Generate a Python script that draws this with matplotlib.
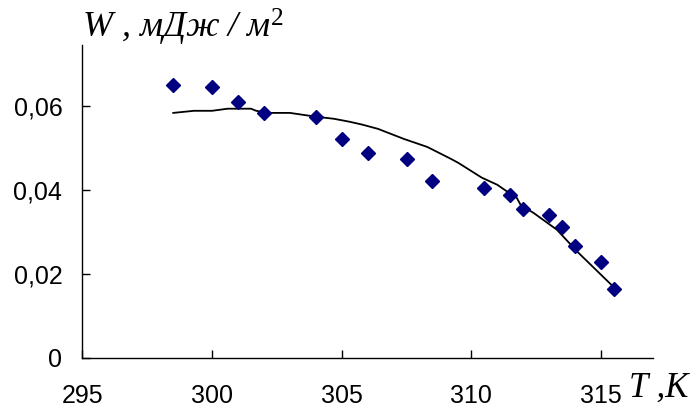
import matplotlib
matplotlib.use("Agg")
import matplotlib.pyplot as plt
from matplotlib.ticker import FuncFormatter

plt.rcParams['mathtext.fontset'] = 'custom'
plt.rcParams['mathtext.rm'] = 'Liberation Serif'
plt.rcParams['mathtext.it'] = 'Liberation Serif:italic'

# experimental points
T_pts = [298.5, 300.0, 301.0, 302.0, 304.0, 305.0, 306.0, 307.5, 308.5,
         310.5, 311.5, 312.0, 313.0, 313.5, 314.0, 315.0, 315.5]
W_pts = [0.0650, 0.0645, 0.0610, 0.0583, 0.0574, 0.0521, 0.0488, 0.0474, 0.0421,
         0.0405, 0.0388, 0.0355, 0.0340, 0.0312, 0.0267, 0.0229, 0.0164]

# calculated curve
T_line = [298.5, 299.3, 300.0, 300.6, 301.5, 301.7, 302.2, 303.0, 304.0, 304.7,
          305.3, 305.8, 306.4, 307.4, 308.3, 309.2, 309.5, 310.4, 311.0, 311.4,
          311.75, 311.9, 312.4, 313.3, 314.1, 315.4]
W_line = [0.0583, 0.0588, 0.0588, 0.0593, 0.0593, 0.0588, 0.0583, 0.0583, 0.0574, 0.0569,
          0.0562, 0.0555, 0.0545, 0.0521, 0.0502, 0.0474, 0.0464, 0.0429, 0.0412, 0.0395,
          0.0381, 0.0364, 0.0345, 0.0305, 0.0252, 0.0174]

x_ticks = [295, 300, 305, 310, 315]
y_ticks = [0, 0.02, 0.04, 0.06]

fig = plt.figure(figsize=(6.99, 4.11), dpi=100)
ax = fig.add_axes([0.118, 0.129, 0.816, 0.762])

ax.plot(T_line, W_line, color='black', lw=1.3, zorder=2)
ax.plot(T_pts, W_pts, linestyle='none', marker='D', markersize=7.2,
        color='#000080', markeredgecolor='#000080', zorder=3)

ax.set_xlim(295, 317)
ax.set_ylim(0, 0.0745)
ax.set_xticks(x_ticks)
ax.set_yticks(y_ticks)

def yfmt(v, pos):
    if abs(v) < 1e-9:
        return '0'
    return ('%.2f' % v).replace('.', ',')

ax.yaxis.set_major_formatter(FuncFormatter(yfmt))
ax.xaxis.set_major_formatter(FuncFormatter(lambda v, p: '%d' % v))

for s in ['top', 'right']:
    ax.spines[s].set_visible(False)
for s in ['left', 'bottom']:
    ax.spines[s].set_linewidth(1.0)

ax.tick_params(axis='both', direction='in', length=6, width=1.0,
               labelsize=18, labelfontfamily='Liberation Sans')
ax.tick_params(axis='x', pad=18.5)
ax.tick_params(axis='y', pad=14.5)

fig.text(0.117, 0.9075, r'W , мДж / м$^{2}$', fontsize=26,
         family='Liberation Serif', style='italic', ha='left', va='baseline')
fig.text(0.900, 0.034, 'T ,K', fontsize=25,
         family='Liberation Serif', style='italic', ha='left', va='baseline')

fig.savefig('out.png', dpi=100)
